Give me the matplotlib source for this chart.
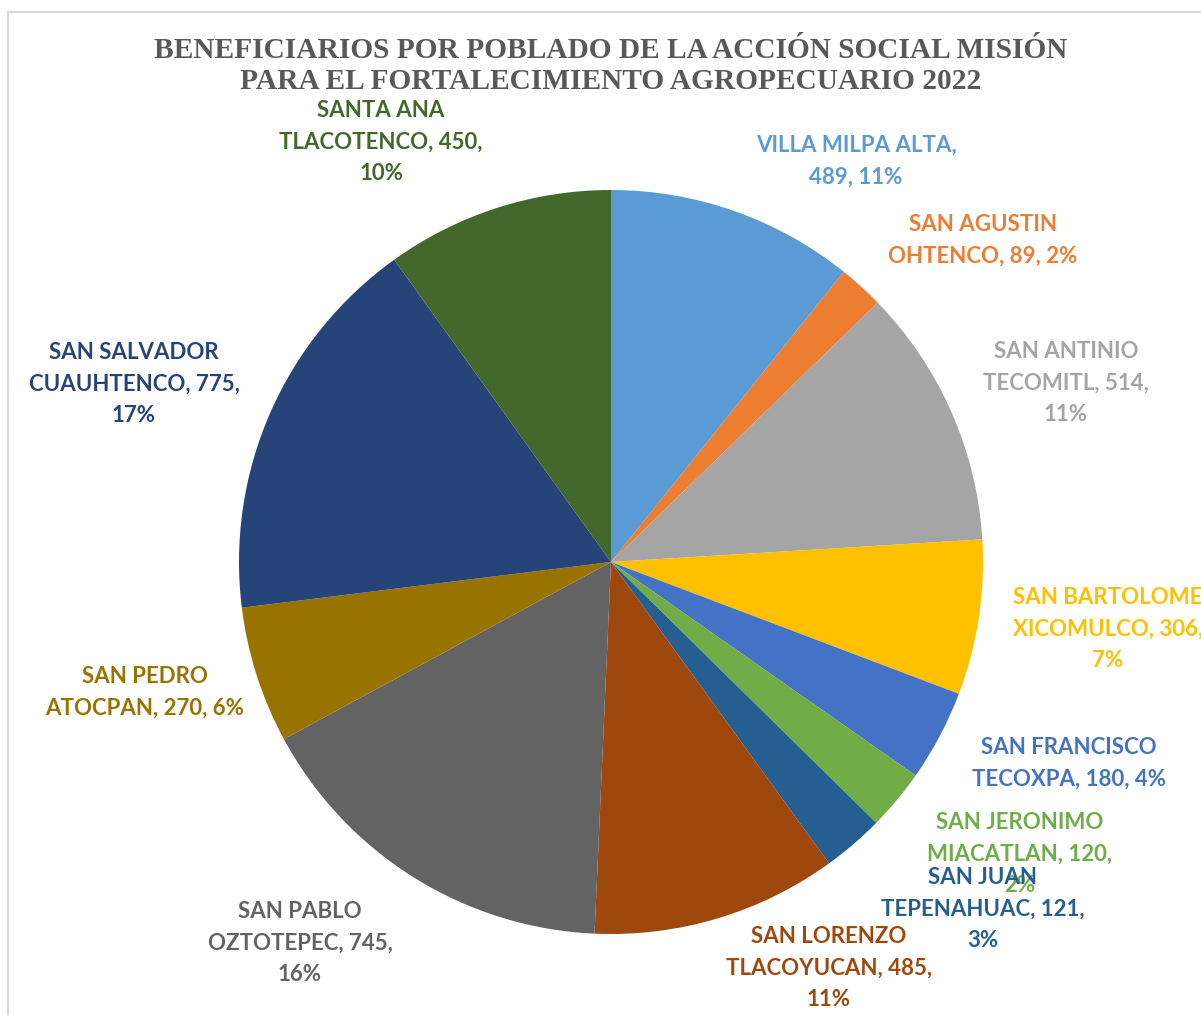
import textwrap
import matplotlib
matplotlib.use("Agg")
from matplotlib import pyplot as plt
from matplotlib.patches import Rectangle

# datos
poblados = ['VILLA MILPA ALTA', 'SAN AGUSTIN OHTENCO', 'SAN ANTINIO TECOMITL',
            'SAN BARTOLOME XICOMULCO', 'SAN FRANCISCO TECOXPA',
            'SAN JERONIMO MIACATLAN', 'SAN JUAN TEPENAHUAC',
            'SAN LORENZO TLACOYUCAN', 'SAN PABLO OZTOTEPEC',
            'SAN PEDRO ATOCPAN', 'SAN SALVADOR CUAUHTENCO',
            'SANTA ANA TLACOTENCO']
beneficiarios = [489, 89, 514, 306, 180, 120, 121, 485, 745, 270, 775, 450]
porcentajes = [11, 2, 11, 7, 4, 2, 3, 11, 16, 6, 17, 10]

colores = ['#5B9BD5', '#ED7D31', '#A5A5A5', '#FFC000', '#4472C4', '#70AD47',
           '#255E91', '#9E480E', '#636363', '#997300', '#264478', '#43682B']

# posicion de etiquetas (pixeles) y ancho de ajuste
pos_etiq = [(856, 161), (983, 240), (1066, 383), (1108, 629), (1069, 763),
            (1020, 854), (983, 909), (829, 968), (300, 943), (145, 692),
            (134, 384), (381, 142)]
ancho = [17, 16, 14, 15, 16, 15, 16, 16, 15, 16, 16, 16]

W, H = 1201, 1015
fig = plt.figure(figsize=(W / 100, H / 100), dpi=100)
ax = fig.add_axes([0, 0, 1, 1])

fig.patches.append(Rectangle((8 / W, -0.1), 1.2, 1 - 12 / H + 0.1,
                             transform=fig.transFigure, fill=False,
                             edgecolor='#D9D9D9', linewidth=1.5))

ax.pie(beneficiarios, colors=colores, startangle=90, counterclock=False,
       center=(611, H - 562), radius=372, frame=True)
ax.set_xlim(0, W)
ax.set_ylim(0, H)
ax.set_aspect('auto')
ax.axis('off')

for i, nombre in enumerate(poblados):
    txt = f'{nombre}, {beneficiarios[i]}, {porcentajes[i]}%'
    txt = '\n'.join(textwrap.wrap(txt, ancho[i]))
    x, y = pos_etiq[i]
    ax.text(x, H - y, txt, ha='center', va='center', color=colores[i],
            fontsize=16, fontweight='bold', family='Lato', linespacing=1.63,
            clip_on=False)

fig.text(611 / W, 1 - 66 / H,
         'BENEFICIARIOS POR POBLADO DE LA ACCIÓN SOCIAL MISIÓN\n'
         'PARA EL FORTALECIMIENTO AGROPECUARIO 2022',
         ha='center', va='center', color='#595959', fontsize=21.2,
         fontweight='bold', family='Liberation Serif', linespacing=1.2)

fig.savefig('out.png', dpi=100)
